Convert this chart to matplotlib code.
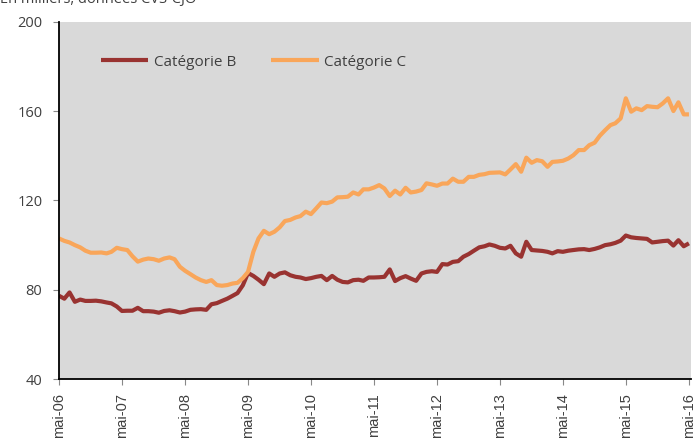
import matplotlib
matplotlib.use("Agg")
import matplotlib.pyplot as plt
import matplotlib.dates as mdates
import numpy as np
import pandas as pd

# ---- data ----
title = "En milliers, données CVS-CJO"
series_names = ["Catégorie B", "Catégorie C"]
start_month = "2006-05-01"
cat_b = [
    77.3, 76, 78.8, 74.6, 75.6, 75, 75, 75.1, 74.8, 74.3,
    73.9, 72.5, 70.5, 70.6, 70.6, 71.9, 70.4, 70.4, 70.2, 69.7,
    70.5, 70.8, 70.4, 69.8, 70.2, 71, 71.2, 71.3, 71, 73.5,
    74, 75, 76, 77.3, 78.5, 82, 87.5, 86.2, 84.5, 82.5,
    87.3, 85.8, 87.3, 87.8, 86.5, 85.8, 85.5, 84.8, 85.2, 85.8,
    86.2, 84.3, 86.2, 84.5, 83.5, 83.3, 84.3, 84.5, 84, 85.5,
    85.5, 85.6, 85.8, 89.1, 83.9, 85.2, 86.1, 85, 84, 87.3,
    88, 88.3, 88, 91.5, 91.3, 92.5, 92.8, 94.8, 96, 97.5,
    99, 99.5, 100.3, 99.7, 98.8, 98.5, 99.7, 96.3, 94.8, 101.5,
    97.8, 97.6, 97.4, 97, 96.3, 97.3, 97, 97.5, 97.8, 98.1,
    98.2, 97.8, 98.3, 99, 100, 100.4, 101, 102, 104.3, 103.5,
    103.2, 103, 102.8, 101.2, 101.5, 101.8, 102, 99.8, 102.2, 99.5,
    100.8,
]
cat_c = [
    103, 101.9, 101.2, 100, 99, 97.5, 96.6, 96.6, 96.7, 96.3,
    97, 98.8, 98.2, 97.8, 95, 92.6, 93.5, 94, 93.7, 93,
    94, 94.5, 93.7, 90.3, 88.5, 87, 85.5, 84.3, 83.5, 84.3,
    82.1, 81.8, 82.1, 82.8, 83.1, 85.2, 88, 97, 103, 106.4,
    104.9, 106, 108, 110.8, 111.3, 112.4, 113, 115, 113.9, 116.5,
    119.1, 118.8, 119.5, 121.4, 121.5, 121.7, 123.6, 122.7, 125, 125,
    125.8, 126.9, 125.4, 122, 124.4, 122.7, 125.7, 123.6, 124, 124.7,
    127.7, 127.2, 126.6, 127.6, 127.6, 129.8, 128.4, 128.4, 130.6, 130.6,
    131.5, 131.8, 132.4, 132.5, 132.6, 131.7, 133.9, 136.3, 132.9, 139.2,
    136.9, 138.1, 137.6, 135.1, 137.3, 137.5, 137.8, 138.8, 140.3, 142.6,
    142.6, 144.8, 145.9, 149, 151.5, 153.8, 154.6, 156.8, 165.8, 159.8,
    161.3, 160.5, 162.3, 162, 161.8, 163.5, 165.8, 160.1, 164, 158.6,
    158.6,
]
x_tick_labels = ["mai-06", "mai-07", "mai-08", "mai-09", "mai-10", "mai-11",
                 "mai-12", "mai-13", "mai-14", "mai-15", "mai-16"]
y_ticks = [40, 80, 120, 160, 200]

colors = ["#993331", "#f9a65a"]

dates = pd.date_range(start_month, periods=len(cat_b), freq="MS")
tick_dates = pd.date_range(start_month, periods=len(x_tick_labels), freq="12MS")

W, H = 695, 444
fig = plt.figure(figsize=(W / 100, H / 100), dpi=100)
fig.patch.set_facecolor("white")
L, R, T, B = 59, 691, 22, 379
ax = fig.add_axes([L / W, 1 - B / H, (R - L) / W, (B - T) / H])
ax.set_facecolor("#d9d9d9")

for vals, name, col in zip([cat_b, cat_c], series_names, colors):
    ax.plot(dates, vals, color=col, lw=3.0, label=name, solid_capstyle="butt",
            solid_joinstyle="round")

ax.set_ylim(40, 200)
ax.set_yticks(y_ticks)
ax.set_yticklabels([str(v) for v in y_ticks], family="Open Sans", fontsize=10.5,
                   color="#404040")
ax.set_xlim(dates[0], dates[-1] + pd.Timedelta(days=12))
ax.set_xticks(tick_dates)
ax.set_xticklabels(x_tick_labels, rotation=90, family="Liberation Sans",
                   fontsize=10.5, color="#404040")

for s in ["top", "right"]:
    ax.spines[s].set_visible(False)
for s in ["left", "bottom"]:
    ax.spines[s].set_color("black")
    ax.spines[s].set_linewidth(1.3)
ax.tick_params(axis="both", direction="out", length=4, width=0.8, color="#888888")
ax.tick_params(axis="y", pad=8)
ax.tick_params(axis="x", pad=6)

leg = ax.legend(loc="center left", bbox_to_anchor=((101 - L) / (R - L), (B - 62) / (B - T)),
                ncol=2, frameon=False, borderpad=0, borderaxespad=0,
                handlelength=3.1, handletextpad=0.35, columnspacing=2.3,
                prop={"family": "Open Sans", "size": 11})
for t in leg.get_texts():
    t.set_color("#404040")
for h in leg.get_lines():
    h.set_linewidth(3.0)

fig.text(0.0, 1 - 0 / H, title, ha="left", va="center", family="Open Sans",
         fontsize=10.5, color="#404040")

fig.savefig("out.png", dpi=100)
